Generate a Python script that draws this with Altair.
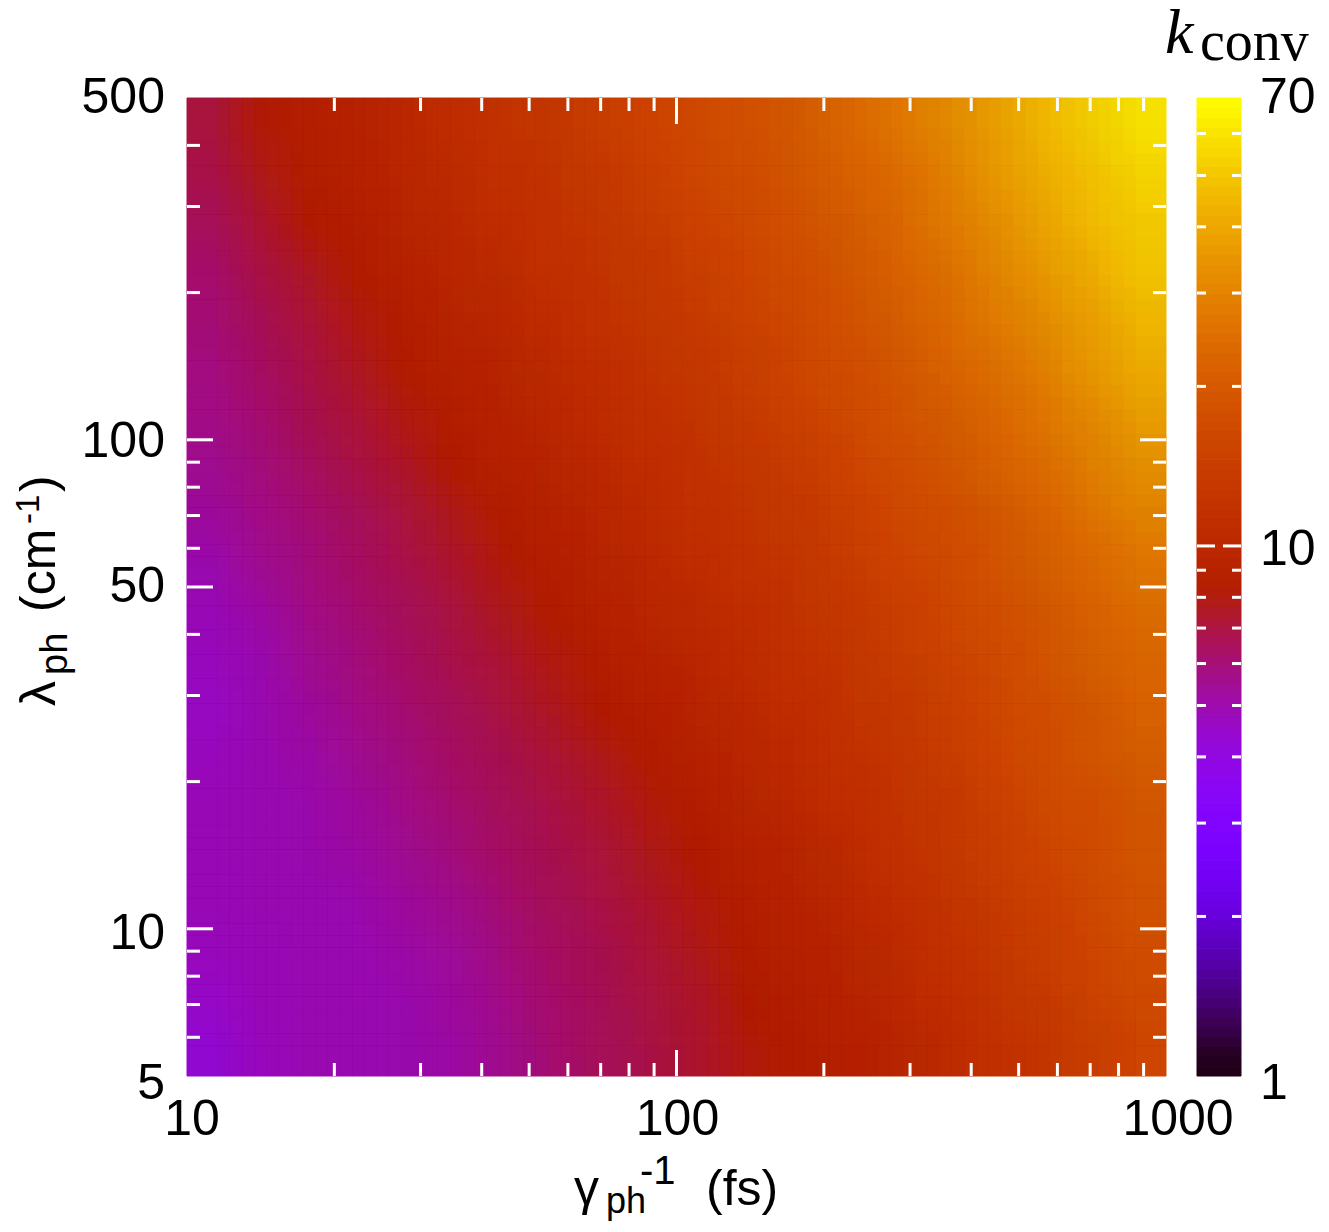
import altair as alt
import numpy as np
import pandas as pd

alt.data_transformers.disable_max_rows()

# k_conv; rows run from lambda=500 (top) to lambda=5 (bottom),
# columns from gamma^-1=10 to 1000, each cell is 0.1 decade wide and tall.
row_01 = [7.0,8.2,9.0,9.6,10.6,11.5,12.6,13.6,14.7,16,17.3,18.6,20.9,23.6,27.5,32.4,38,46,53,60]
row_02 = [6.8,7.8,8.7,9.4,10.3,11.1,12,12.9,14,15.4,16.8,18,20,22.3,25.5,30,36,43,49,56]
row_03 = [6.5,7.3,8.3,8.9,9.9,10.7,11.6,12.4,13.4,14.6,16,17.2,19,21,23.7,28,33.6,40,47,52]
row_04 = [6.2,6.9,7.6,8.5,9.3,10.3,11.1,12,12.9,13.9,15.2,16.4,18,19.9,22.4,26,31,36.6,42.5,50]
row_05 = [6.0,6.6,7.2,8.0,8.8,9.7,10.5,11.4,12.4,13.4,14.4,15.7,17,19,21.2,24.3,28.8,33,38.7,46]
row_06 = [5.8,6.3,6.9,7.6,8.5,9.2,10,10.9,11.7,12.8,13.8,15,16.5,18,20.2,22.8,26,30.5,36,42]
row_07 = [5.7,6.1,6.7,7.2,8.0,8.8,9.5,10.4,11.3,12.1,13.2,14.2,15.6,17,18.8,21,23.6,27.5,32.4,38]
row_08 = [5.5,5.9,6.4,6.9,7.5,8.4,9.2,9.9,10.8,11.6,12.5,13.5,14.6,16,17.5,19.7,22,25,29.4,34]
row_09 = [5.3,5.7,6.1,6.5,7.1,7.8,8.6,9.4,10.3,11.2,12,12.9,13.9,15.1,16.8,18.2,20.2,23,27,30.6]
row_10 = [5.0,5.5,5.9,6.3,6.8,7.4,8.2,9,9.8,10.7,11.5,12.4,13.3,14.5,15.9,17.3,19.4,21.6,24.2,27.5]
row_11 = [4.8,5.2,5.7,6.1,6.5,7.0,7.7,8.5,9.3,10.1,10.9,11.8,12.8,13.8,15,16.5,18.1,20.2,22.8,25.5]
row_12 = [4.7,5,5.5,5.9,6.3,6.8,7.3,8,8.8,9.5,10.4,11.3,12.2,13.3,14.5,15.8,17.4,19.4,21.6,23.6]
row_13 = [4.6,4.9,5.3,5.7,6.1,6.5,7,7.6,8.3,9,9.9,10.8,11.7,12.7,13.9,15.2,16.7,18.3,20.4,22.4]
row_14 = [4.7,4.9,5.1,5.5,5.9,6.3,6.7,7.2,7.8,8.6,9.4,10.3,11.2,12.2,13.3,14.6,16,17.7,19.5,21.3]
row_15 = [4.8,4.9,5,5.3,5.7,6.1,6.5,6.9,7.4,8.1,8.8,9.8,10.7,11.6,12.7,13.9,15.3,17,18.3,20.3]
row_16 = [4.8,4.9,5,5.2,5.5,5.9,6.3,6.7,7.1,7.7,8.4,9.2,10,11,12.2,13.4,14.7,16.2,17.8,19.5]
row_17 = [4.8,4.9,4.9,5,5.3,5.6,6.1,6.5,6.9,7.4,8.1,8.8,9.6,10.4,11.5,12.7,14.1,15.4,17,18.8]
row_18 = [4.7,4.8,4.9,4.9,5.1,5.4,5.9,6.3,6.7,7.2,7.8,8.5,9.2,10,11,12.1,13.4,14.7,16.3,18]
row_19 = [4.5,4.8,4.9,4.9,5,5.3,5.7,6.2,6.6,7,7.5,8.3,8.9,9.6,10.6,11.5,12.9,14,15.7,17.4]
row_20 = [4.3,4.7,4.9,4.9,5,5.2,5.6,6.1,6.5,6.9,7.4,8.1,8.6,9.1,10,11,12.2,13.3,14.8,16.3]
rows = [row_01,row_02,row_03,row_04,row_05,row_06,row_07,row_08,row_09,row_10,
        row_11,row_12,row_13,row_14,row_15,row_16,row_17,row_18,row_19,row_20]

x_major = [10, 100, 1000]
x_minor = [20,30,40,50,60,70,80,90,200,300,400,500,600,700,800,900]
y_major = [5, 10, 50, 100, 500]
y_minor = [6,7,8,9,20,30,40,60,70,80,90,200,300,400]
c_major = [10]
c_minor = [2,3,4,5,6,7,8,9,20,30,40,50,60]

FONT = "Liberation Sans"
SERIF = "Liberation Serif"
W, H = 979, 978
LABEL = 50
XD = [10, 1000]
YD = [5, 500]
CD = [1, 70]

# gnuplot's default pm3d palette (rgbformulae 7,5,15)
def pal(g):
    r = np.sqrt(g); gr = g**3; b = np.clip(np.sin(2*np.pi*g), 0, 1)
    return "#%02x%02x%02x" % (int(r*255), int(gr*255), int(b*255))
palette = [pal(g) for g in np.linspace(0, 1, 51)]
cscale = alt.Scale(type="log", domain=CD, range=palette)
xs = alt.Scale(type="log", domain=XD)
ys = alt.Scale(type="log", domain=YD)
bs = alt.Scale(type="log", domain=CD)

# heat-map table: the grid is drawn several times, slightly displaced and
# translucent, which gives the soft look of the reference's smoothed pm3d map.
def grid_table(sx, sy):
    xe = 10 ** (1 + (np.arange(21) + sx) / 10)
    ye = 5 * 10 ** ((20 - np.arange(21) - sy) / 10)
    xe[0], xe[-1] = XD[0], XD[1]
    ye[0], ye[-1] = YD[1], YD[0]
    return pd.DataFrame([
        {"x": xe[j], "x2": xe[j+1], "y": ye[i], "y2": ye[i+1], "k": rows[i][j]}
        for i in range(20) for j in range(20)
    ])

enc = dict(
    x=alt.X("x:Q", scale=xs, axis=None), x2="x2:Q",
    y=alt.Y("y:Q", scale=ys, axis=None), y2="y2:Q",
    color=alt.Color("k:Q", scale=cscale, legend=None),
)
heat = [alt.Chart(grid_table(0, 0)).mark_rect(strokeWidth=1).encode(
    stroke=alt.Stroke("k:Q", scale=cscale, legend=None), **enc)]
offsets = [-0.375, -0.125, 0.125, 0.375]
n = 0
for sy in offsets:
    for sx in offsets:
        n += 1
        heat.append(alt.Chart(grid_table(sx, sy)).mark_rect(opacity=1.0 / n).encode(**enc))

# colour bar
be = np.geomspace(1, 70, 101)
bar_df = pd.DataFrame({"y": be[:-1], "y2": be[1:], "k": np.sqrt(be[:-1]*be[1:])})
BX0, BX1 = 1197-187, 1241-187
bar = alt.Chart(bar_df).mark_rect(strokeWidth=1).encode(
    x=alt.value(BX0), x2=alt.value(BX1),
    y=alt.Y("y:Q", scale=bs, axis=None), y2="y2:Q",
    color=alt.Color("k:Q", scale=cscale, legend=None),
    stroke=alt.Stroke("k:Q", scale=cscale, legend=None),
)

WHITE = {"color": "white", "strokeWidth": 3}

def vticks(vals, length):
    df = pd.DataFrame({"v": vals})
    b = alt.Chart(df).mark_rule(**WHITE)
    ex = alt.X("v:Q", scale=xs, axis=None)
    return [b.encode(x=ex, y=alt.value(H), y2=alt.value(H-length)),
            b.encode(x=ex, y=alt.value(0), y2=alt.value(length))]

def hticks(vals, length, scale, x0, x1):
    df = pd.DataFrame({"v": vals})
    b = alt.Chart(df).mark_rule(**WHITE)
    ey = alt.Y("v:Q", scale=scale, axis=None)
    return [b.encode(y=ey, x=alt.value(x0), x2=alt.value(x0+length)),
            b.encode(y=ey, x=alt.value(x1), x2=alt.value(x1-length))]

ticks = (vticks(x_major[1:-1], 26) + vticks(x_minor, 13)
         + hticks(y_major[1:-1], 26, ys, 0, W) + hticks(y_minor, 13, ys, 0, W)
         + hticks(c_major, 18, bs, BX0, BX1) + hticks(c_minor, 9, bs, BX0, BX1))

def xlabel(v, dx):
    return alt.Chart(pd.DataFrame({"v": [v], "t": [str(v)]})).mark_text(
        font=FONT, fontSize=LABEL, color="black", align="center", baseline="middle", dx=dx
    ).encode(x=alt.X("v:Q", scale=xs, axis=None), y=alt.value(1120-98), text="t:N")

def ylabel(v, dy):
    return alt.Chart(pd.DataFrame({"v": [v], "t": [str(v)]})).mark_text(
        font=FONT, fontSize=LABEL, color="black", align="right", baseline="middle", dy=dy
    ).encode(y=alt.Y("v:Q", scale=ys, axis=None), x=alt.value(165-187), text="t:N")

def clabel(v, dy):
    return alt.Chart(pd.DataFrame({"v": [v], "t": [str(v)]})).mark_text(
        font=FONT, fontSize=LABEL, color="black", align="left", baseline="middle", dy=dy
    ).encode(y=alt.Y("v:Q", scale=bs, axis=None), x=alt.value(1260-187), text="t:N")

labels = [xlabel(10, 5), xlabel(100, 1), xlabel(1000, 12),
          ylabel(500, 0), ylabel(100, 2), ylabel(50, 0), ylabel(10, 5), ylabel(5, 8),
          clabel(70, 0), clabel(10, 4), clabel(1, 8)]

def txt(s, px, py, size, font=FONT, angle=0, style="normal"):
    return alt.Chart(pd.DataFrame({"t": [s]})).mark_text(
        font=font, fontSize=size, color="black", align="left", baseline="alphabetic",
        angle=angle, fontStyle=style
    ).encode(x=alt.value(px-187), y=alt.value(py-98), text="t:N")

texts = [
    txt("γ", 574, 1205, 50), txt("ph", 606, 1213, 36), txt("-1", 640, 1184, 40), txt("(fs)", 706, 1205, 50),
    txt("λ", 55, 706, 50, angle=270), txt("ph", 67, 675, 38, angle=270),
    txt("(cm", 55, 612, 50, angle=270), txt("-1", 39, 524, 33, angle=270), txt(")", 55, 492, 50, angle=270),
    txt("k", 1165, 53, 64, font=SERIF, style="italic"), txt("conv", 1200, 60, 56, font=SERIF),
]

chart = alt.layer(*heat, bar, *ticks, *labels, *texts).resolve_scale(
    x="independent", y="independent"
).properties(
    width=W, height=H,
    padding={"left": 179, "top": 90, "right": 150, "bottom": 146},
    autosize=alt.AutoSizeParams(type="none"),
    background="white",
).configure_view(stroke=None)

chart.save("out.html", embed_options={"renderer": "svg", "actions": False})
